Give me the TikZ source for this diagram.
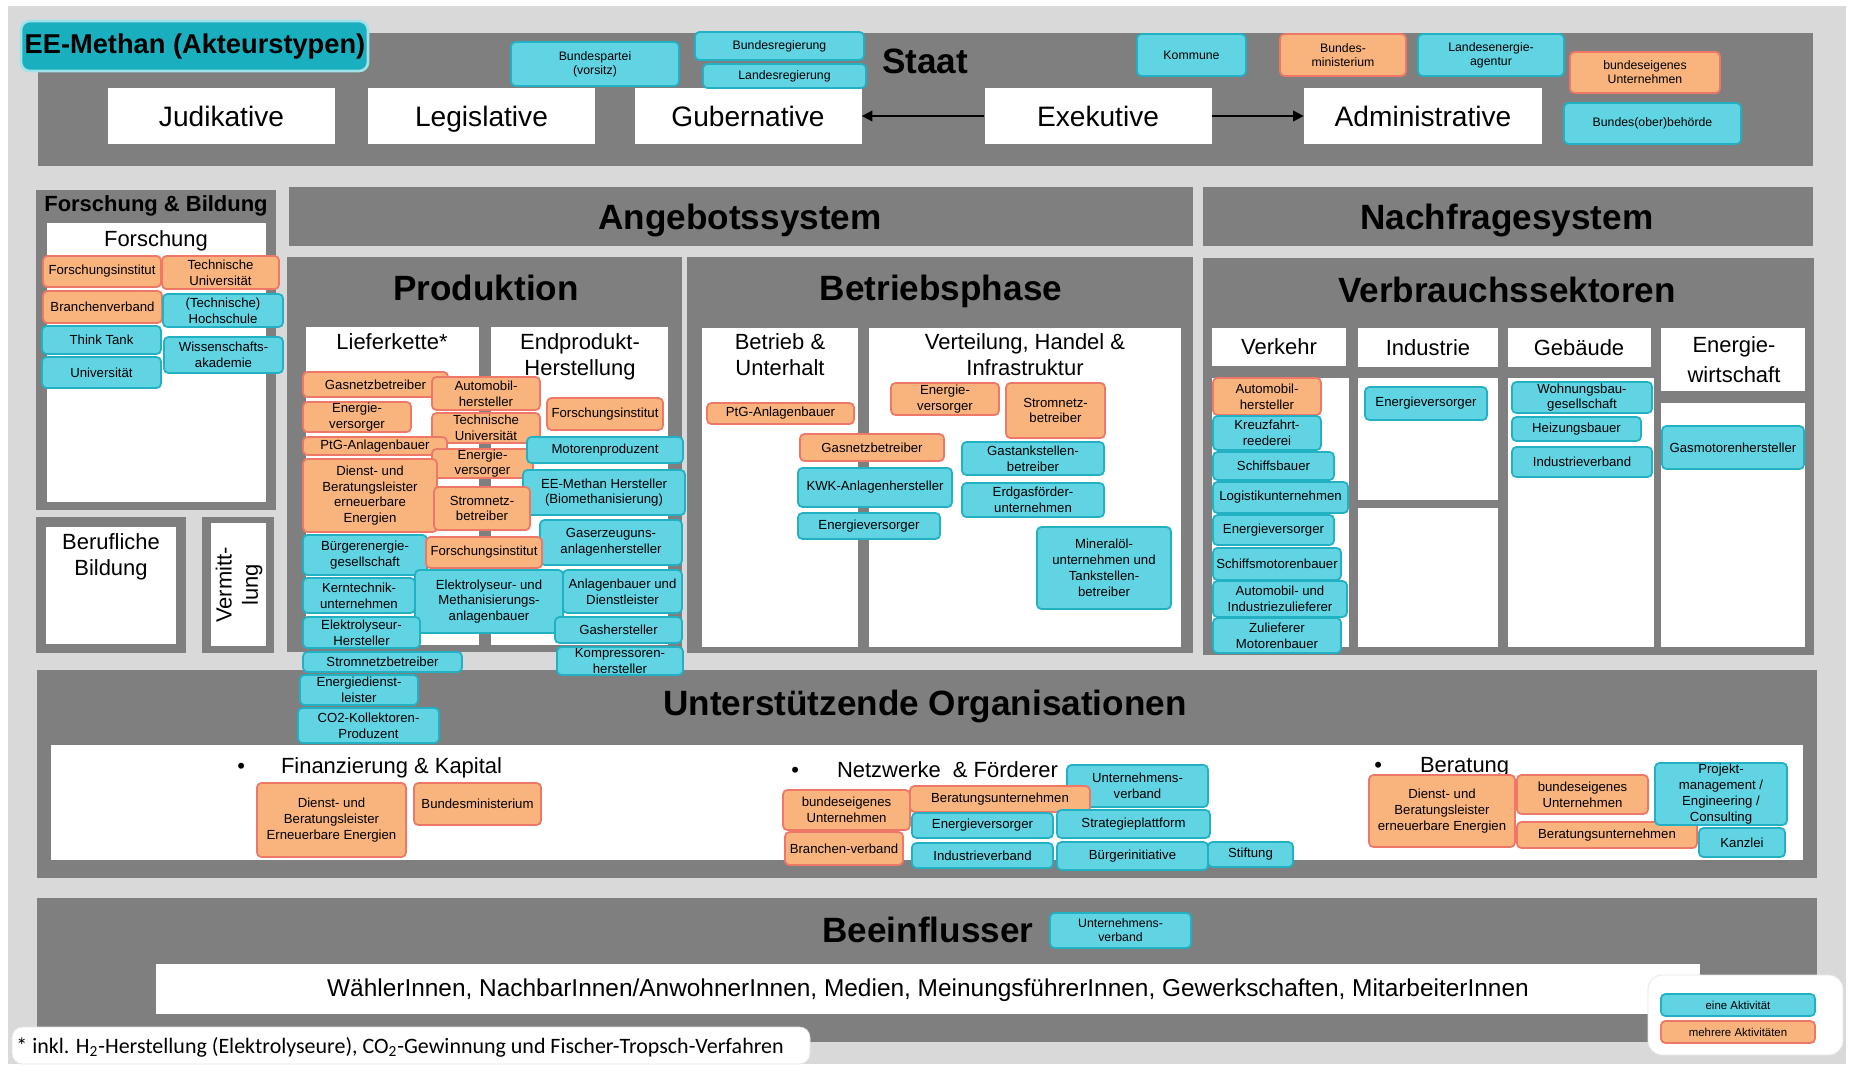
\documentclass[tikz,border=0pt]{standalone}
\usepackage{fontspec}
\setmainfont{Liberation Sans}
\newfontfamily\fussfont{Carlito}
\usepackage{xcolor}
\usepackage{tikz}
\usetikzlibrary{arrows.meta,calc}

\definecolor{hellgrau}{HTML}{D9D9D9}
\definecolor{dunkelgrau}{HTML}{7F7F7F}
\definecolor{tuerkis}{HTML}{60D4E3}
\definecolor{tuerkisrand}{HTML}{22B0C3}
\definecolor{apricot}{HTML}{F9B47E}
\definecolor{apricotrand}{HTML}{EE7767}
\definecolor{titeltuerkis}{HTML}{1AAFBE}
\definecolor{titelrand}{HTML}{9FE3EA}

% Akteur: Kasten mit Text in der Mitte
\newcommand{\akteur}[6][]{%
  \draw[#2] (#3) rectangle (#4);
  \node[akttext,#1] (#5) at ($(#3)!.5!(#4)$) {#6};}

\begin{document}
\begin{tikzpicture}[x=0.2mm, y=-0.2mm,
  eine/.style={fill=tuerkis, draw=tuerkisrand, line width=1pt, rounded corners=2.5pt},
  mehr/.style={fill=apricot, draw=apricotrand, line width=1pt, rounded corners=2.5pt},
  akttext/.style={font=\fontsize{7.5}{9}\selectfont, align=center, inner sep=0pt},
  klein/.style={font=\fontsize{7}{8}\selectfont},
  legtext/.style={font=\fontsize{6.5}{7.5}\selectfont},
  kopf/.style={font=\fontsize{20}{24}\selectfont\bfseries, anchor=base, inner sep=0pt},
  kopfklein/.style={font=\fontsize{12.5}{15}\selectfont\bfseries, anchor=base, inner sep=0pt},
  unterkopf/.style={font=\fontsize{12.5}{15}\selectfont, align=center, anchor=north, inner sep=0pt},
  punkt/.style={font=\fontsize{12.5}{15}\selectfont, anchor=base west, inner sep=0pt},
  amt/.style={fill=white, minimum width=45.4mm, minimum height=11.2mm, inner sep=0pt,
    text height=13pt, text depth=0.5pt, font=\fontsize{16}{19}\selectfont},
  pfeil/.style={-{Triangle[length=6pt,width=6pt]}, line width=1pt}]
  \useasboundingbox (0,0) rectangle (1849,1066);
  \fill [hellgrau] (8,6) rectangle (1846,1064);

  % Staat
  \fill [dunkelgrau] (38,33) rectangle (1813,166);
  \draw [fill=titeltuerkis, draw=titelrand, line width=1.5pt, rounded corners=5pt] (21,21) rectangle (368,71);
  \node [font=\fontsize{15.5}{18}\selectfont\bfseries, inner sep=0pt] (titel) at (195,46) {EE-Methan (Akteurstypen)};
  \node [kopf] (staat) at (925,73) {Staat};
  \node [amt] (jud) at (221.5,116) {Judikative};
  \node [amt] (leg) at (481.5,116) {Legislative};
  \node [amt] (gub) at (748,116) {Gubernative};
  \node [amt] (exe) at (1098,116) {Exekutive};
  \node [amt, minimum width=47.6mm] (adm) at (1423,116) {Administrative};
  \draw [pfeil] (exe) -- (gub);
  \draw [pfeil] (exe) -- (adm);
  \akteur[klein]{eine}{511,42}{679,86}{bp}{Bundespartei\\(vorsitz)}
  \akteur[klein]{eine}{695,32}{864,60}{breg}{Bundesregierung}
  \akteur[klein]{eine}{703,64}{866,88}{lreg}{Landesregierung}
  \akteur[klein]{eine}{1137,34}{1246,76}{kom}{Kommune}
  \akteur[klein]{mehr}{1280,34}{1406,76}{bmin}{Bundes-\\ministerium}
  \akteur[klein]{eine}{1418,34}{1564,76}{lea}{Landesenergie-\\agentur}
  \akteur[klein]{mehr}{1570,52}{1720,93}{beu}{bundeseigenes\\Unternehmen}
  \akteur[klein]{eine}{1564,103}{1741,144}{bob}{Bundes(ober)behörde}

  % Forschung & Bildung
  \fill [dunkelgrau] (36,190) rectangle (276,510);
  \fill [white] (47,223) rectangle (266,502);
  \node [kopfklein] (fub) at (156,211) {Forschung \& Bildung};
  \node [unterkopf] (fo) at (156,230) {Forschung};
  \fill [dunkelgrau] (36,517) rectangle (186,653);
  \fill [white] (46,527) rectangle (176,644);
  \node [unterkopf] (bb) at (111,533) {Berufliche\\Bildung};
  \fill [dunkelgrau] (202,517) rectangle (274,653);
  \fill [white] (211,523) rectangle (266,646);
  \node [unterkopf, anchor=center, rotate=90] (vm) at (239,585) {Vermitt-\\lung};

  % Angebots- und Nachfragesystem
  \fill [dunkelgrau] (289,187) rectangle (1193,246);
  \node [kopf] (ang) at (740,229) {Angebotssystem};
  \fill [dunkelgrau] (1203,187) rectangle (1813,246);
  \node [kopf] (nach) at (1507,229) {Nachfragesystem};

  % Produktion
  \fill [dunkelgrau] (287,257) rectangle (682,652);
  \node [kopf] (prod) at (486,300) {Produktion};
  \fill [white] (306,327) rectangle (479,645);
  \fill [white] (491,327) rectangle (668,645);
  \node [unterkopf] (lk) at (392,333) {Lieferkette*};
  \node [unterkopf] (eh) at (580,333) {Endprodukt-\\Herstellung};

  % Betriebsphase
  \fill [dunkelgrau] (687,257) rectangle (1193,653);
  \node [kopf] (betr) at (941,300) {Betriebsphase};
  \fill [white] (702,328) rectangle (858,647);
  \fill [white] (869,328) rectangle (1181,647);
  \node [unterkopf] (bu) at (780,333) {Betrieb \&\\Unterhalt};
  \node [unterkopf] (vhi) at (1025,333) {Verteilung, Handel \&\\Infrastruktur};

  % Verbrauchssektoren
  \fill [dunkelgrau] (1203,258) rectangle (1814,655);
  \node [kopf] (verb) at (1507,302) {Verbrauchssektoren};
  \fill [white] (1212,328) rectangle (1346,366);
  \fill [white] (1358,328) rectangle (1498,367);
  \fill [white] (1508,328) rectangle (1651,367);
  \fill [white] (1661,328) rectangle (1805,391);
  \fill [white] (1212,378) rectangle (1349,647);
  \fill [white] (1358,378) rectangle (1498,500);
  \fill [white] (1358,508) rectangle (1498,647);
  \fill [white] (1508,378) rectangle (1654,647);
  \fill [white] (1661,403) rectangle (1805,647);
  \node [unterkopf] (vk) at (1279,338) {Verkehr};
  \node [unterkopf] (ind) at (1428,339) {Industrie};
  \node [unterkopf] (geb) at (1579,339) {Gebäude};
  \node [unterkopf, font=\fontsize{12.5}{17}\selectfont] (ew) at (1734,336) {Energie-\\wirtschaft};

  % Unterstuetzende Organisationen
  \fill [dunkelgrau] (37,670) rectangle (1817,878);
  \fill [white] (51,745) rectangle (1803,860);
  \node [kopf] (uo) at (925,715) {Unterstützende Organisationen};
  \node [punkt] (fin) at (237,773) {\textbullet\hspace{7.2mm}Finanzierung \& Kapital};
  \node [punkt] (netz) at (791,777) {\textbullet\hspace{7.6mm}Netzwerke~ \& Förderer};
  \node [punkt] (ber) at (1374,772) {\textbullet\hspace{7.6mm}Beratung};

  % Beeinflusser
  \fill [dunkelgrau] (37,898) rectangle (1817,1042);
  \node [kopf] (bee) at (928,942) {Beeinflusser};
  \fill [white] (156,964) rectangle (1700,1014);
  \node [font=\fontsize{13.9}{16}\selectfont, inner sep=0pt] (oeff) at (928,990) {WählerInnen, NachbarInnen/AnwohnerInnen, Medien, MeinungsführerInnen, Gewerkschaften, MitarbeiterInnen};

  % Akteure Forschung
  \akteur{mehr}{43,256}{161,287}{fi}{Forschungsinstitut}
  \akteur{mehr}{162,256}{279,289}{tu}{Technische\\Universität}
  \akteur{mehr}{43,291}{162,323}{bv}{Branchenverband}
  \akteur{eine}{163,294}{283,327}{hs}{(Technische)\\Hochschule}
  \akteur{eine}{42,326}{161,354}{tt}{Think Tank}
  \akteur{eine}{164,337}{283,373}{wak}{Wissenschafts-\\akademie}
  \akteur{eine}{42,357}{161,388}{uni}{Universität}

  % Akteure Produktion
  \akteur{mehr}{303,372}{448,397}{gnb}{Gasnetzbetreiber}
  \akteur{mehr}{432,377}{540,410}{amh}{Automobil-\\hersteller}
  \akteur{mehr}{303,402}{411,432}{ev1}{Energie-\\versorger}
  \akteur{mehr}{547,398}{663,430}{fi2}{Forschungsinstitut}
  \akteur{mehr}{432,413}{540,443}{tu2}{Technische\\Universität}
  \akteur{mehr}{303,437}{447,455}{ptg}{PtG-Anlagenbauer}
  \akteur{mehr}{432,449}{533,478}{ev2}{Energie-\\versorger}
  \akteur{eine}{527,437}{683,463}{mp}{Motorenproduzent}
  \akteur{mehr}{303,459}{437,532}{dbl}{Dienst- und\\Beratungsleister\\erneuerbare\\Energien}
  \akteur{eine}{523,470}{685,515}{eem}{EE-Methan Hersteller\\(Biomethanisierung)}
  \akteur{mehr}{434,487}{530,530}{snb}{Stromnetz-\\betreiber}
  \akteur{eine}{540,520}{682,565}{gea}{Gaserzeuguns-\\anlagenhersteller}
  \akteur{eine}{303,535}{427,575}{bes}{Bürgerenergie-\\gesellschaft}
  \akteur{mehr}{426,537}{542,568}{fi3}{Forschungsinstitut}
  \akteur{eine}{303,578}{415,613}{ktu}{Kerntechnik-\\unternehmen}
  \akteur{eine}{415,570}{563,633}{elm}{Elektrolyseur- und\\Methanisierungs-\\anlagenbauer}
  \akteur{eine}{563,570}{682,613}{abd}{Anlagenbauer und\\Dienstleister}
  \akteur{eine}{303,617}{420,648}{elh}{Elektrolyseur-\\Hersteller}
  \akteur{eine}{555,617}{682,643}{gash}{Gashersteller}
  \akteur{eine}{303,652}{462,672}{snb2}{Stromnetzbetreiber}
  \akteur{eine}{557,647}{683,675}{kph}{Kompressoren-\\hersteller}
  \akteur{eine}{300,675}{418,705}{edl}{Energiedienst-\\leister}
  \akteur{eine}{298,708}{439,743}{co2}{CO2-Kollektoren-\\Produzent}

  % Akteure Betriebsphase
  \akteur{mehr}{707,403}{854,424}{ptg2}{PtG-Anlagenbauer}
  \akteur{mehr}{891,383}{999,415}{ev3}{Energie-\\versorger}
  \akteur{mehr}{1006,383}{1105,438}{snb3}{Stromnetz-\\betreiber}
  \akteur{mehr}{800,434}{944,461}{gnb2}{Gasnetzbetreiber}
  \akteur{eine}{962,442}{1104,475}{gtb}{Gastankstellen-\\betreiber}
  \akteur{eine}{798,468}{952,507}{kwk}{KWK-Anlagenhersteller}
  \akteur{eine}{962,483}{1104,517}{efu}{Erdgasförder-\\unternehmen}
  \akteur{eine}{798,513}{940,539}{ev4}{Energieversorger}
  \akteur{eine}{1037,527}{1171,609}{mtb}{Mineralöl-\\unternehmen und\\Tankstellen-\\betreiber}

  % Akteure Verbrauchssektoren
  \akteur{mehr}{1213,378}{1321,415}{amh2}{Automobil-\\hersteller}
  \akteur{eine}{1213,416}{1321,450}{kfr}{Kreuzfahrt-\\reederei}
  \akteur{eine}{1213,452}{1334,480}{sb}{Schiffsbauer}
  \akteur{eine}{1213,482}{1348,513}{lu}{Logistikunternehmen}
  \akteur{eine}{1213,515}{1334,545}{ev5}{Energieversorger}
  \akteur{eine}{1213,548}{1341,580}{smb}{Schiffsmotorenbauer}
  \akteur{eine}{1213,581}{1347,617}{aiz}{Automobil- und\\Industriezulieferer}
  \akteur{eine}{1213,618}{1341,653}{zmb}{Zulieferer\\Motorenbauer}
  \akteur{eine}{1365,387}{1487,420}{ev6}{Energieversorger}
  \akteur{eine}{1512,382}{1652,413}{wbg}{Wohnungsbau-\\gesellschaft}
  \akteur{eine}{1512,417}{1641,441}{hzb}{Heizungsbauer}
  \akteur{eine}{1512,447}{1652,477}{ivb}{Industrieverband}
  \akteur{eine}{1662,426}{1804,469}{gmh}{Gasmotorenhersteller}

  % Akteure Unterstuetzende Organisationen
  \akteur{mehr}{257,783}{406,857}{dbl2}{Dienst- und\\Beratungsleister\\Erneuerbare Energien}
  \akteur{mehr}{414,783}{541,825}{bmin2}{Bundesministerium}
  \akteur{mehr}{783,790}{910,830}{beu2}{bundeseigenes\\Unternehmen}
  \akteur{eine}{1067,765}{1208,807}{uv}{Unternehmens-\\verband}
  \akteur{mehr}{910,786}{1090,812}{bu}{Beratungsunternehmen}
  \akteur{eine}{912,813}{1053,838}{ev7}{Energieversorger}
  \akteur{eine}{1057,810}{1210,838}{sp}{Strategieplattform}
  \akteur{mehr}{785,832}{903,865}{bv2}{Branchen-verband}
  \akteur{eine}{912,843}{1053,868}{ivb2}{Industrieverband}
  \akteur{eine}{1057,842}{1208,870}{bi}{Bürgerinitiative}
  \akteur{eine}{1208,842}{1293,867}{stift}{Stiftung}
  \akteur{mehr}{1369,775}{1515,847}{dbl3}{Dienst- und\\Beratungsleister\\erneuerbare Energien}
  \akteur{mehr}{1517,775}{1648,814}{beu3}{bundeseigenes\\Unternehmen}
  \akteur{mehr}{1517,822}{1697,848}{bu2}{Beratungsunternehmen}
  \akteur{eine}{1655,763}{1787,825}{pec}{Projekt-\\management /\\Engineering /\\Consulting}
  \akteur{eine}{1699,828}{1785,857}{kzl}{Kanzlei}

  % Akteur Beeinflusser
  \akteur[klein]{eine}{1050,913}{1191,948}{uv2}{Unternehmens-\\verband}

  % Fussnote und Legende
  \draw [fill=white, draw=white!90!black, rounded corners=6pt] (12,1027) rectangle (810,1064);
  \node [anchor=west, inner sep=0pt, font=\fussfont\fontsize{12.5}{14}\selectfont] (fuss) at (16,1047)
    {* inkl. H\textsubscript{2}-Herstellung (Elektrolyseure), CO\textsubscript{2}-Gewinnung und Fischer-Tropsch-Verfahren};
  \draw [fill=white, draw=white!90!black, rounded corners=8pt] (1648,975) rectangle (1843,1055);
  \akteur[legtext]{eine}{1661,994}{1815,1016}{leg1}{eine Aktivität}
  \akteur[legtext]{mehr}{1661,1021}{1815,1043}{leg2}{mehrere Aktivitäten}
\end{tikzpicture}
\end{document}
